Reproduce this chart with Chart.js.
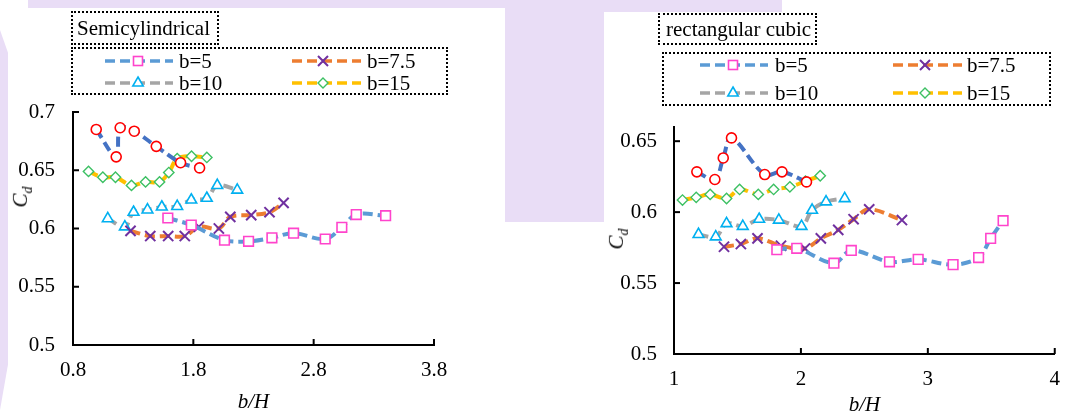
<!DOCTYPE html>
<html><head><meta charset="utf-8">
<script src="https://cdn.jsdelivr.net/npm/chart.js@4.4.1/dist/chart.umd.min.js"></script>
<style>
body{margin:0;width:1073px;height:419px;position:relative;background:#fff;overflow:hidden;font-family:"Liberation Serif","Times New Roman",serif;color:#000;}
.bg{position:absolute;background:#E9DDF6;z-index:0;}
canvas{position:absolute;top:0;z-index:1;}
.box{position:absolute;border:2px dotted #000;box-sizing:border-box;z-index:2;}
.txt{position:absolute;font-size:21px;line-height:24px;white-space:nowrap;z-index:3;}
.sample{position:absolute;z-index:3;}
.ytitle{position:absolute;font-size:21px;font-style:italic;white-space:nowrap;transform:translate(-50%,-50%) rotate(-90deg);z-index:3;line-height:20px;}
.ytitle sub{font-size:14px;}
</style></head>
<body>
<div class="bg" style="left:28px;top:0;width:480px;height:8px"></div>
<div class="bg" style="left:0;top:30px;width:8px;height:380px;clip-path:polygon(0 0,100% 6%,100% 88%,0 100%)"></div>
<div class="bg" style="left:505px;top:0;width:99px;height:222px"></div>
<div class="bg" style="left:604px;top:0;width:178px;height:12px"></div>

<canvas id="c1" width="540" height="419" style="left:0"></canvas>
<canvas id="c2" width="533" height="419" style="left:540px"></canvas>

<div class="box" style="left:71px;top:11px;width:148px;height:34px"></div>
<div class="txt" style="left:77px;top:16px">Semicylindrical</div>
<div class="box" style="left:71px;top:47px;width:377px;height:48px"></div>

<div class="box" style="left:658px;top:13px;width:159px;height:32px"></div>
<div class="txt" style="left:666px;top:17px">rectangular cubic</div>
<div class="box" style="left:662px;top:52px;width:389px;height:54px"></div>

<div class="ytitle" style="left:24px;top:197px">C<sub>d</sub></div>
<div class="ytitle" style="left:620px;top:239px">C<sub>d</sub></div>

<script>
// ---------- DATA ----------
const SERIES_LABELS = ['b=5', 'b=7.5', 'b=10', 'b=15'];

// Semicylindrical panel
const S_XTICKS = [0.8, 1.8, 2.8, 3.8];
const S_XLABELS = ['0.8', '1.8', '2.8', '3.8'];
const S_YTICKS = [0.5, 0.55, 0.6, 0.65, 0.7];
const S_YLABELS = ['0.5', '0.55', '0.6', '0.65', '0.7'];
const S_B5_X  = [1.588, 1.783, 2.059, 2.259, 2.453, 2.633, 2.896, 3.034, 3.154, 3.398];
const S_B5_Y  = [0.609, 0.603, 0.590, 0.589, 0.592, 0.596, 0.591, 0.601, 0.612, 0.611];
const S_B75_X = [1.278, 1.442, 1.591, 1.729, 1.846, 2.012, 2.107, 2.281, 2.433, 2.550];
const S_B75_Y = [0.598, 0.5935, 0.5935, 0.5935, 0.6015, 0.600, 0.610, 0.6115, 0.614, 0.622];
const S_B10_X = [1.089, 1.231, 1.303, 1.419, 1.538, 1.666, 1.783, 1.912, 1.999, 2.165];
const S_B10_Y = [0.6085, 0.6015, 0.614, 0.616, 0.6185, 0.619, 0.6245, 0.626, 0.637, 0.633];
const S_B15_X = [0.929, 1.048, 1.153, 1.286, 1.403, 1.519, 1.596, 1.666, 1.785, 1.912];
const S_B15_Y = [0.649, 0.644, 0.644, 0.637, 0.640, 0.640, 0.648, 0.660, 0.662, 0.661];
const S_C_X   = [0.993, 1.159, 1.192, 1.309, 1.492, 1.694, 1.852];
const S_C_Y   = [0.685, 0.6615, 0.6865, 0.6835, 0.6705, 0.6565, 0.652];

// Rectangular cubic panel
const R_XTICKS = [1, 2, 3, 4];
const R_XLABELS = ['1', '2', '3', '4'];
const R_YTICKS = [0.5, 0.55, 0.6, 0.65];
const R_YLABELS = ['0.5', '0.55', '0.6', '0.65'];
const R_B5_X  = [1.81, 1.967, 2.26, 2.397, 2.698, 2.924, 3.199, 3.40, 3.495, 3.593];
const R_B5_Y  = [0.5735, 0.5745, 0.564, 0.573, 0.565, 0.5667, 0.563, 0.568, 0.5815, 0.594];
const R_B75_X = [1.394, 1.527, 1.658, 1.843, 2.032, 2.157, 2.294, 2.415, 2.538, 2.796];
const R_B75_Y = [0.5756, 0.5775, 0.5815, 0.5763, 0.5744, 0.5815, 0.5875, 0.595, 0.602, 0.5944];
const R_B10_X = [1.193, 1.329, 1.414, 1.542, 1.671, 1.826, 2.005, 2.088, 2.198, 2.345];
const R_B10_Y = [0.5843, 0.5826, 0.592, 0.590, 0.595, 0.5944, 0.590, 0.6014, 0.6073, 0.6096];
const R_B15_X = [1.067, 1.175, 1.285, 1.414, 1.517, 1.664, 1.785, 1.913, 2.036, 2.152];
const R_B15_Y = [0.6085, 0.6104, 0.6125, 0.6096, 0.616, 0.6125, 0.616, 0.6178, 0.6218, 0.6256];
const R_C_X   = [1.18, 1.322, 1.388, 1.453, 1.715, 1.851, 2.044];
const R_C_Y   = [0.6284, 0.623, 0.6382, 0.6523, 0.6265, 0.6284, 0.6213];

// ---------- STYLES ----------
const FONT = '"Liberation Serif","Times New Roman",serif';
const ST = {
  c:   {line:'#4472C4', mk:'#FF0000', shape:'circle',   r:5,   bw:1.6},
  b5:  {line:'#5B9BD5', mk:'#FF44CC', shape:'rect',     r:6.8, bw:1.6},
  b75: {line:'#ED7D31', mk:'#7030A0', shape:'crossRot', r:7.2, bw:2},
  b10: {line:'#A5A5A5', mk:'#00B0F0', shape:'triangle', r:6.2, bw:1.6},
  b15: {line:'#FFC000', mk:'#3CC063', shape:'rectRot',  r:5.2, bw:1.4}
};

function ds(label, xs, ys, st, order){
  return {label, data: xs.map((x,i)=>({x, y: ys[i]})), showLine:true,
    borderColor: st.line, borderWidth:4, borderDash:[10,5], tension:0.35,
    pointStyle: st.shape, pointRadius: st.r, pointBorderColor: st.mk,
    pointBackgroundColor:'#fff', pointBorderWidth: st.bw, order, fill:false};
}

const insideTicks = {id:'insideTicks', beforeDatasetsDraw(chart){
  const ctx = chart.ctx, a = chart.chartArea, xs = chart.scales.x, ys = chart.scales.y;
  ctx.save(); ctx.strokeStyle = '#000'; ctx.lineWidth = 2;
  xs.ticks.forEach(t=>{ const p = xs.getPixelForValue(t.value); ctx.beginPath(); ctx.moveTo(p, a.bottom); ctx.lineTo(p, a.bottom-6); ctx.stroke(); });
  ys.ticks.forEach(t=>{ const p = ys.getPixelForValue(t.value); ctx.beginPath(); ctx.moveTo(a.left, p); ctx.lineTo(a.left+6, p); ctx.stroke(); });
  ctx.restore();
}};

function makeChart(id, datasets, o){
  return new Chart(document.getElementById(id), {
    type:'scatter', data:{datasets},
    options:{responsive:false, animation:false, devicePixelRatio:1,
      layout:{padding:{top:o.top, right:o.right, bottom:0, left:0}},
      plugins:{legend:{display:false}, tooltip:{enabled:false}},
      scales:{
        x:{type:'linear', min:o.xmin, max:o.xmax,
          afterBuildTicks:s=>{s.ticks = o.xticks.map(v=>({value:v}));},
          afterFit:s=>{s.height = o.xh;},
          grid:{display:false, drawTicks:false},
          border:{display:true, color:'#000', width:2},
          ticks:{padding:13, color:'#000', font:{family:FONT, size:21}, maxRotation:0, autoSkip:false,
            callback:(v,i)=>o.xlabels[i]},
          title:{display:true, text:'b/H', color:'#000', font:{family:FONT, size:21, style:'italic'}, padding:{top:0, bottom:o.tpb}}
        },
        y:{type:'linear', min:o.ymin, max:o.ymax,
          afterBuildTicks:s=>{s.ticks = o.yticks.map(v=>({value:v}));},
          afterFit:s=>{s.width = o.yw;},
          grid:{display:false, drawTicks:false},
          border:{display:true, color:'#000', width:2},
          ticks:{padding:o.ypad, color:'#000', font:{family:FONT, size:21}, autoSkip:false,
            callback:(v,i)=>o.ylabels[i]}
        }
      }
    }, plugins:[insideTicks]});
}

makeChart('c1', [
  ds('', S_C_X, S_C_Y, ST.c, 0),
  ds(SERIES_LABELS[0], S_B5_X, S_B5_Y, ST.b5, 1),
  ds(SERIES_LABELS[1], S_B75_X, S_B75_Y, ST.b75, 2),
  ds(SERIES_LABELS[2], S_B10_X, S_B10_Y, ST.b10, 3),
  ds(SERIES_LABELS[3], S_B15_X, S_B15_Y, ST.b15, 4)
], {top:112, right:106, xmin:0.8, xmax:3.8, ymin:0.5, ymax:0.7, xticks:S_XTICKS, xlabels:S_XLABELS,
    yticks:S_YTICKS, ylabels:S_YLABELS, xh:74, yw:73, tpb:4, ypad:18});

makeChart('c2', [
  ds('', R_C_X, R_C_Y, ST.c, 0),
  ds(SERIES_LABELS[0], R_B5_X, R_B5_Y, ST.b5, 1),
  ds(SERIES_LABELS[1], R_B75_X, R_B75_Y, ST.b75, 2),
  ds(SERIES_LABELS[2], R_B10_X, R_B10_Y, ST.b10, 3),
  ds(SERIES_LABELS[3], R_B15_X, R_B15_Y, ST.b15, 4)
], {top:127, right:10, xmin:1, xmax:4, ymin:0.5, ymax:0.66, xticks:R_XTICKS, xlabels:R_XLABELS,
    yticks:R_YTICKS, ylabels:R_YLABELS, xh:65, yw:134, tpb:1, ypad:17});

// ---------- HTML legends ----------
function markerSVG(st, cx, cy){
  const c = st.mk;
  switch(st.shape){
    case 'rect': return `<rect x="${cx-4.5}" y="${cy-4.5}" width="9" height="9" fill="#fff" stroke="${c}" stroke-width="1.6"/>`;
    case 'crossRot': return `<path d="M${cx-5} ${cy-5}L${cx+5} ${cy+5}M${cx+5} ${cy-5}L${cx-5} ${cy+5}" stroke="${c}" stroke-width="2"/>`;
    case 'triangle': return `<path d="M${cx} ${cy-6}L${cx+5.2} ${cy+3}L${cx-5.2} ${cy+3}Z" fill="#fff" stroke="${c}" stroke-width="1.6"/>`;
    case 'rectRot': return `<path d="M${cx} ${cy-5}L${cx+5} ${cy}L${cx} ${cy+5}L${cx-5} ${cy}Z" fill="#fff" stroke="${c}" stroke-width="1.4"/>`;
  }
  return '';
}
function legend(items){
  items.forEach(it=>{
    const w = it.x2 - it.x1, h = 16;
    const svg = `<svg width="${w}" height="${h}" xmlns="http://www.w3.org/2000/svg"><line x1="0" y1="8" x2="${w}" y2="8" stroke="${it.st.line}" stroke-width="3.5" stroke-dasharray="10 5"/>${markerSVG(it.st, it.mx - it.x1, 8)}</svg>`;
    const d = document.createElement('div'); d.className='sample';
    d.style.left = it.x1+'px'; d.style.top = (it.y-8)+'px'; d.innerHTML = svg; document.body.appendChild(d);
    const t = document.createElement('div'); t.className='txt';
    t.style.left = it.tx+'px'; t.style.top = (it.y-12)+'px'; t.textContent = it.label; document.body.appendChild(t);
  });
}
const SER = [ST.b5, ST.b75, ST.b10, ST.b15];
legend([
  {label:SERIES_LABELS[0], st:SER[0], x1:105, x2:173, mx:138, tx:179, y:61},
  {label:SERIES_LABELS[1], st:SER[1], x1:292, x2:361, mx:323, tx:367, y:61},
  {label:SERIES_LABELS[2], st:SER[2], x1:105, x2:173, mx:138, tx:179, y:83},
  {label:SERIES_LABELS[3], st:SER[3], x1:292, x2:361, mx:323, tx:367, y:83},
  {label:SERIES_LABELS[0], st:SER[0], x1:700, x2:768, mx:733, tx:775, y:65},
  {label:SERIES_LABELS[1], st:SER[1], x1:893, x2:962, mx:925, tx:967, y:65},
  {label:SERIES_LABELS[2], st:SER[2], x1:700, x2:768, mx:733, tx:775, y:93},
  {label:SERIES_LABELS[3], st:SER[3], x1:893, x2:962, mx:925, tx:967, y:93}
]);
</script>
</body></html>
